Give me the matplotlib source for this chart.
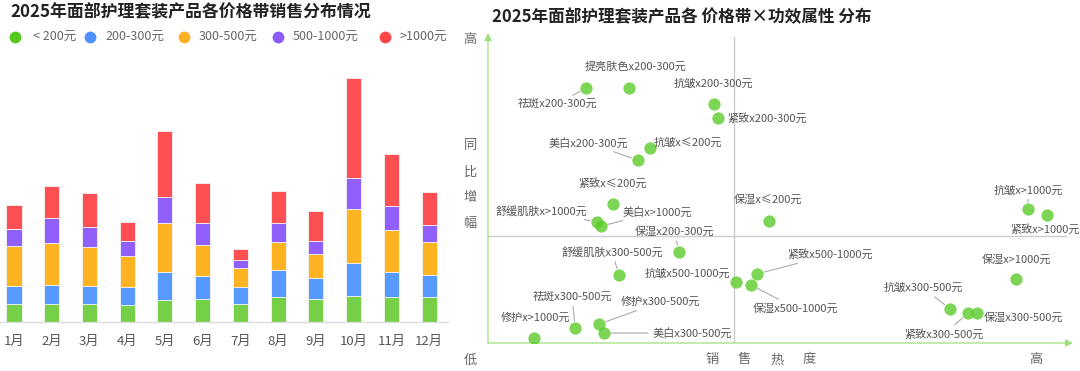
import matplotlib
matplotlib.use("Agg")
import matplotlib.pyplot as plt
import numpy as np

plt.rcParams['font.family'] = ['Noto Sans CJK SC', 'DejaVu Sans']

# ---------------- data: left stacked bar chart ----------------
months = ["1月", "2月", "3月", "4月", "5月", "6月", "7月", "8月", "9月", "10月", "11月", "12月"]
price_bands = ["< 200元", "200-300元", "300-500元", "500-1000元", ">1000元"]
sales_lt200 = [18, 18, 18, 17, 22, 23, 18, 24.7, 23, 26, 24.7, 25]
sales_200_300 = [18, 19, 18, 18, 28.3, 23.3, 17, 27.6, 21.3, 32.7, 25.6, 22]
sales_300_500 = [40, 42, 39, 31.3, 48.7, 30.7, 19.3, 27.7, 23.3, 54, 42, 33.3]
sales_500_1000 = [17, 25.3, 20, 14.3, 26.3, 22, 7.7, 18.7, 13.3, 31.3, 23.3, 16.7]
sales_gt1000 = [24, 31.7, 34.3, 19.3, 65.7, 40, 11, 32.3, 30, 100, 52, 33]

# ---------------- data: right scatter ----------------
scatter_labels = [
    "祛斑x200-300元", "提亮肤色x200-300元", "抗皱x200-300元", "紧致x200-300元",
    "抗皱x≤200元", "美白x200-300元", "紧致x≤200元", "舒缓肌肤x>1000元",
    "美白x>1000元", "保湿x200-300元", "舒缓肌肤x300-500元", "抗皱x500-1000元",
    "紧致x500-1000元", "保湿x500-1000元", "祛斑x300-500元", "修护x300-500元",
    "美白x300-500元", "修护x>1000元", "保湿x≤200元", "抗皱x>1000元",
    "紧致x>1000元", "保湿x>1000元", "抗皱x300-500元", "紧致x300-500元",
    "保湿x300-500元",
]
sales_heat = [16.8, 24.1, 38.6, 39.3, 27.7, 25.6, 21.4, 18.6, 19.3, 32.6, 22.4, 42.4,
              46.0, 45.0, 14.9, 19.0, 19.8, 7.9, 48.0, 92.3, 95.6, 90.3, 79.0, 82.1, 83.6]
yoy_growth = [82.3, 82.3, 77.1, 72.6, 62.9, 59.0, 44.8, 39.0, 37.7, 29.4, 21.9, 19.7,
              22.3, 18.7, 4.8, 6.1, 3.2, 1.6, 39.4, 43.2, 41.3, 20.6, 11.0, 9.7, 9.7]
heat_mid = 42.05
growth_mid = 34.5

# label offsets in pixels (dx right, dy up) and whether a leader line is drawn
label_offsets = [
    (-29, -16, True), (7, 21, False), (0, 20, False), (49, 0, False),
    (38, 6, False), (-49, 17, True), (-1, 21, False), (-55, 11, True),
    (56, 14, True), (-4, 20, True), (-7, 23, True), (-49, 8, False),
    (73, 19, True), (44, -23, True), (-3, 31, True), (61, 22, True),
    (88, 0, True), (1, 20, False), (-1, 21, False), (0, 19, True),
    (-2, -14, False), (0, 20, False), (-27, 21, True), (-24, -21, True),
    (46, -5, False),
]

bar_colors = ["#75d048", "#5899fd", "#fdb322", "#9160fc", "#fe5052"]
legend_colors = ["#55c91c", "#4f8ffd", "#fdb022", "#8b5af8", "#fd4747"]

W, H = 1080, 371
fig = plt.figure(figsize=(W / 100, H / 100), dpi=100)

def fx(px):
    return px / W

def fy(py):
    return 1 - py / H

# ---------------- left chart ----------------
ax = fig.add_axes([fx(0), fy(322), fx(448), 250 / H])
x = np.arange(len(months))
series = [sales_lt200, sales_200_300, sales_300_500, sales_500_1000, sales_gt1000]
bottom = np.zeros(len(months))
for vals, c in zip(series, bar_colors):
    v = np.array(vals, dtype=float)
    ax.bar(x, v, bottom=bottom, width=0.40, color=c, edgecolor="#f4f4f4", linewidth=0.6, zorder=2)
    bottom += v
ax.set_xlim(-0.37, 11.5)
ax.set_ylim(0, 250)
ax.set_xticks(x)
ax.set_xticklabels(months, fontsize=9.5, color="#555555")
ax.tick_params(axis="x", length=0, pad=9)
ax.set_yticks([])
for s in ["top", "right", "left"]:
    ax.spines[s].set_visible(False)
ax.spines["bottom"].set_color("#dddddd")
ax.spines["bottom"].set_linewidth(1)
ax.patch.set_alpha(0)

fig.text(fx(10), fy(12), "2025年面部护理套装产品各价格带销售分布情况", fontsize=12.2,
         fontweight="bold", color="#222222", va="center", ha="left")

# legend
leg_marker_x = [15, 90, 184, 278, 385]
leg_text_x = [33, 105, 199, 293, 400]
for name, c, mx, tx in zip(price_bands, legend_colors, leg_marker_x, leg_text_x):
    fig.lines.append(plt.Line2D([fx(mx)], [fy(37)], marker="o", markersize=8.5,
                                color=c, markeredgewidth=0, transform=fig.transFigure))
    fig.text(fx(tx), fy(37), name, fontsize=9, color="#666666", va="center", ha="left")

# ---------------- right chart ----------------
ax2 = fig.add_axes([fx(488), fy(343), fx(1073) - fx(488), 310 / H])
ax2.set_xlim(0, 100)
ax2.set_ylim(0, 100)
ax2.axis("off")
ax2.patch.set_alpha(0)

axis_green = "#9ee07c"
ax2.annotate("", xy=(1.0, 0), xytext=(0, 0), xycoords="axes fraction",
             arrowprops=dict(arrowstyle="-|>", color=axis_green, lw=0.9, mutation_scale=11,
                             shrinkA=0, shrinkB=0))
ax2.annotate("", xy=(0, 1.0), xytext=(0, 0), xycoords="axes fraction",
             arrowprops=dict(arrowstyle="-|>", color=axis_green, lw=0.9, mutation_scale=11,
                             shrinkA=0, shrinkB=0))
ax2.plot([heat_mid, heat_mid], [0, 98.7], color="#cccccc", lw=1, zorder=1)
ax2.plot([0, 98.8], [growth_mid, growth_mid], color="#cccccc", lw=1, zorder=1)

ax2.scatter(sales_heat, yoy_growth, s=78, color="#5ccb2a", alpha=0.8, linewidths=0, zorder=3)

for lab, xv, yv, (dx, dy, line) in zip(scatter_labels, sales_heat, yoy_growth, label_offsets):
    kw = {}
    if line:
        kw["arrowprops"] = dict(arrowstyle="-", color="#aaaaaa", lw=0.8, shrinkA=1, shrinkB=5)
    ax2.annotate(lab, xy=(xv, yv), xytext=(dx * 0.72, dy * 0.72), textcoords="offset points",
                 fontsize=8, color="#555555", ha="center", va="center", zorder=4, **kw)

fig.text(fx(492), fy(17), "2025年面部护理套装产品各 价格带×功效属性 分布", fontsize=12,
         fontweight="bold", color="#222222", va="center", ha="left")

lab_c = "#666666"
fig.text(fx(470), fy(40), "高", fontsize=9.5, color=lab_c, ha="center", va="center")
for ch, py in zip("同比增幅", [146, 172, 197, 223]):
    fig.text(fx(470), fy(py), ch, fontsize=9.5, color=lab_c, ha="center", va="center")
fig.text(fx(470), fy(360), "低", fontsize=9.5, color=lab_c, ha="center", va="center")
for ch, px in zip("销售热度", [712, 744, 777, 809]):
    fig.text(fx(px), fy(360), ch, fontsize=9.5, color=lab_c, ha="center", va="center")
fig.text(fx(1036), fy(360), "高", fontsize=9.5, color=lab_c, ha="center", va="center")

fig.savefig("out.png", dpi=100)
